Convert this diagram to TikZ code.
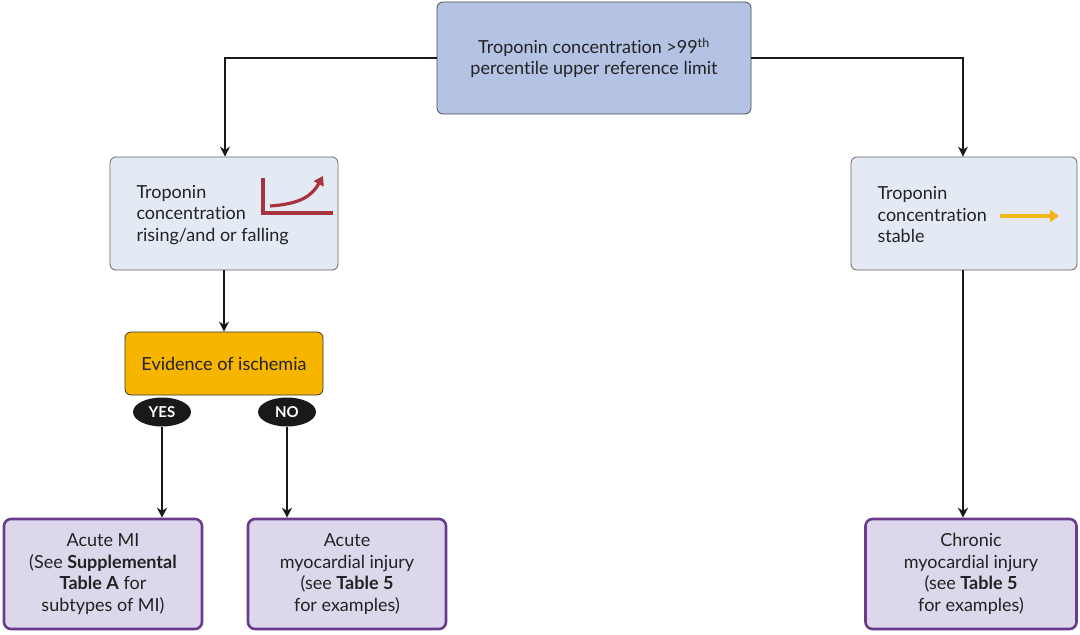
\documentclass[tikz,border=0pt]{standalone}
\usepackage{fontspec}
\setmainfont{Lato}[Ligatures={NoCommon}]
\usetikzlibrary{arrows.meta,shapes.geometric}
\definecolor{topblue}{HTML}{B4C3E3}
\definecolor{paleblue}{HTML}{E4EAF4}
\definecolor{orng}{HTML}{F7B500}
\definecolor{lilac}{HTML}{DDD7EC}
\definecolor{purp}{HTML}{6A3B8C}
\definecolor{redarrow}{HTML}{A8323F}
\definecolor{yelarrow}{HTML}{F4B518}
\definecolor{txt}{HTML}{222222}
\begin{document}
\begin{tikzpicture}[x=1pt,y=-1pt,
  every node/.style={font=\fontsize{18}{21.5}\selectfont, text=txt},
  topbox/.style={draw=black!70, line width=0.8pt, fill=topblue, rounded corners=6pt},
  midbox/.style={draw=black!60, line width=0.8pt, fill=paleblue, rounded corners=6pt},
  decbox/.style={draw=black!80, line width=0.8pt, fill=orng, rounded corners=6pt},
  resbox/.style={draw=purp, line width=2.6pt, fill=lilac, rounded corners=7pt},
  pill/.style={ellipse, fill=black!90, minimum width=58pt, minimum height=29pt, inner sep=0pt, text=white, font=\fontsize{15}{17}\selectfont\bfseries},
  conn/.style={draw=black!90, line width=1.6pt, -{Stealth[length=10pt,width=10pt]}},
]
\useasboundingbox (0,0) rectangle (1080,635);
% boxes
\node[topbox, minimum width=314pt, minimum height=112pt, align=center] (top) at (594,58) {Troponin concentration >99\textsuperscript{th}\\percentile upper reference limit};
\node[midbox, minimum width=228pt, minimum height=113pt] (left) at (224,213.5) {};
\node[midbox, minimum width=226pt, minimum height=113pt] (right) at (964,213.5) {};
\node[anchor=west, align=left] (lefttxt) at (133,215) {Troponin\\concentration\\rising/and or falling};
\node[anchor=west, align=left] (righttxt) at (874,215) {Troponin\\concentration\\stable};
\node[decbox, minimum width=198pt, minimum height=63pt] (isch) at (224,363.5) {Evidence of ischemia};
\node[pill] (yes) at (162,412) {YES};
\node[pill] (no) at (287,412) {NO};
\node[resbox, minimum width=198pt, minimum height=110pt, align=center] (mi) at (103,574) {Acute MI\\(See \textbf{Supplemental}\\\textbf{Table A} for\\subtypes of MI)};
\node[resbox, minimum width=198pt, minimum height=110pt, align=center] (acute) at (347,574) {Acute\\myocardial injury\\(see \textbf{Table 5}\\for examples)};
\node[resbox, minimum width=211pt, minimum height=110pt, align=center] (chronic) at (971,574) {Chronic\\myocardial injury\\(see \textbf{Table 5}\\for examples)};
% icons
\draw[redarrow, line width=3.2pt] (263,178) -- (263,213) -- (333,213);
\draw[redarrow, line width=3.2pt, -{Triangle[length=9pt,width=11pt]}] (270,206) .. controls (300,204) and (312,196) .. (323,176);
\draw[yelarrow, line width=3.4pt, -{Triangle[length=9pt,width=12pt]}] (1000,216) -- (1059,216);
% connectors
\coordinate (lc) at (225,58);
\coordinate (rc) at (963,58);
\draw[conn] (top.west) -- (lc) -- (left.north -| lc);
\draw[conn] (top.east) -- (rc) -- (right.north -| rc);
\draw[conn] (left.south) -- (isch.north);
\draw[conn] (yes.south) -- (yes.south |- mi.north);
\draw[conn] (no.south) -- (no.south |- acute.north);
\draw[conn] (right.south -| rc) -- (chronic.north -| rc);
\end{tikzpicture}
\end{document}
